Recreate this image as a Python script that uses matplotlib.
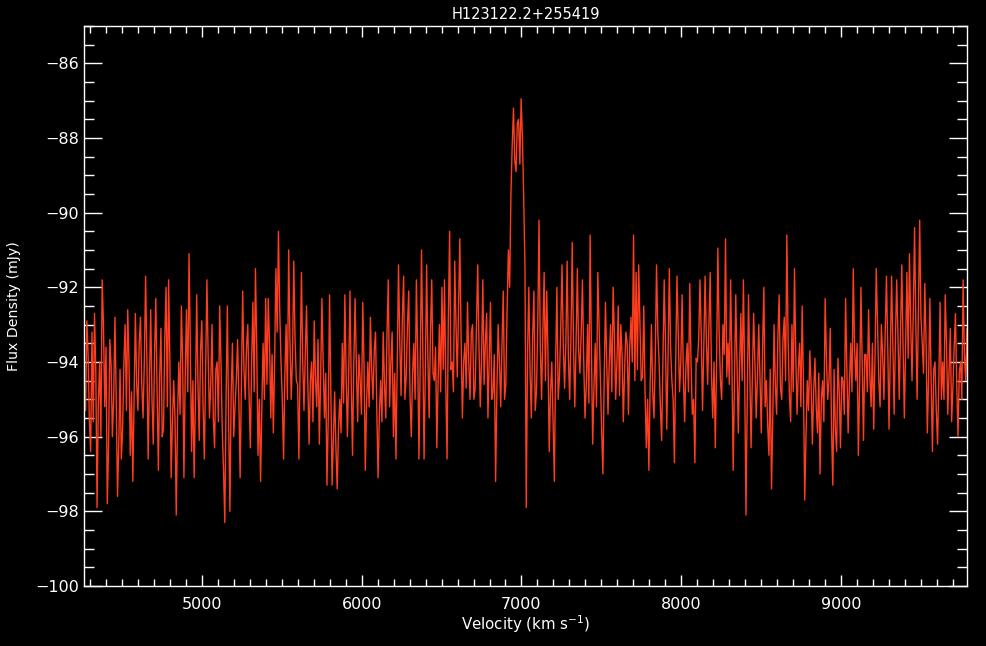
import numpy as np
import matplotlib
matplotlib.use("Agg")
import matplotlib.pyplot as plt
from matplotlib.ticker import MultipleLocator


TITLE = "H123122.2+255419"
X_LABEL = "Velocity (km s$^{-1}$)"
Y_LABEL = "Flux Density (mJy)"

# channel grid of the spectrum (km/s): 8 km/s per channel
V_START = 4262.0
V_STEP = 8.0

# flux density (mJy) on the even channels, 12 per row
flux_even = [
    -94.6, -92.9, -95.6, -93.2, -92.7, -97.9, -94.0, -91.8, -95.2, -97.8, -93.4, -96.0,
    -92.8, -97.6, -94.2, -95.8, -93.0, -92.6, -96.5, -97.2, -92.7, -95.3, -92.8, -95.5,
    -91.7, -96.6, -92.6, -96.2, -92.3, -96.9, -93.1, -95.8, -92.0, -91.8, -97.1, -94.5,
    -98.1, -94.0, -92.5, -97.1, -92.6, -91.1, -96.4, -97.1, -92.2, -96.1, -92.9, -96.6,
    -91.8, -95.5, -93.0, -96.3, -94.0, -92.5, -95.8, -98.3, -92.5, -98.0, -93.5, -95.2,
    -93.4, -97.1, -92.1, -95.0, -93.0, -96.3, -92.4, -91.5, -96.5, -97.2, -93.5, -92.3,
    -92.3, -95.5, -95.9, -91.5, -90.5, -94.0, -96.6, -93.0, -91.0, -95.0, -91.3, -94.5,
    -96.6, -91.6, -95.3, -92.5, -96.2, -94.0, -92.9, -95.2, -96.2, -92.3, -95.5, -97.3,
    -92.2, -97.3, -94.8, -97.4, -95.0, -93.5, -92.2, -96.0, -92.1, -96.5, -92.3, -95.6,
    -94.5, -92.4, -96.9, -94.0, -92.8, -95.0, -93.2, -97.1, -94.5, -93.2, -95.5, -91.8,
    -94.0, -96.0, -96.6, -91.4, -94.9, -91.7, -94.4, -92.1, -96.0, -93.5, -91.8, -96.6,
    -91.0, -96.6, -91.4, -95.5, -91.8, -94.5, -96.3, -93.0, -92.0, -91.8, -96.6, -90.5,
    -94.0, -91.3, -94.4, -90.7, -95.5, -93.5, -92.4, -95.0, -93.0, -94.7, -91.4, -95.2,
    -91.8, -93.5, -95.5, -92.4, -94.8, -97.2, -93.0, -95.2, -92.1, -94.6, -91.0, -89.5,
    -87.2, -88.9, -87.5, -86.95, -89.6, -97.9, -92.0, -95.5, -92.1, -94.8, -90.2, -95.0,
    -91.6, -92.1, -96.4, -94.0, -97.2, -92.0, -94.4, -91.4, -94.7, -91.3, -95.0, -90.8,
    -95.2, -91.5, -94.3, -91.8, -95.5, -93.0, -90.6, -96.2, -93.5, -91.6, -94.5, -97.0,
    -92.4, -95.4, -93.0, -92.0, -95.0, -92.5, -93.0, -95.6, -93.2, -95.4, -92.8, -90.6,
    -91.6, -91.4, -94.5, -92.5, -96.3, -96.9, -93.0, -95.5, -91.4, -94.0, -96.1, -91.8,
    -95.8, -91.5, -94.5, -96.7, -91.7, -94.8, -92.2, -95.6, -93.5, -91.9, -95.4, -96.7,
    -94.0, -91.8, -95.3, -91.7, -94.6, -91.6, -95.5, -96.3, -90.95, -94.5, -93.0, -90.7,
    -93.5, -91.8, -96.9, -92.2, -95.9, -92.7, -91.8, -98.1, -92.2, -96.3, -92.7, -95.5,
    -93.0, -95.9, -92.0, -94.5, -96.5, -97.4, -93.0, -95.4, -92.2, -95.0, -92.8, -90.6,
    -94.9, -93.0, -91.5, -95.4, -93.5, -92.5, -97.7, -94.5, -93.7, -96.2, -93.9, -95.9,
    -97.0, -94.5, -92.3, -95.0, -93.1, -97.3, -95.8, -93.9, -96.3, -94.5, -92.3, -95.9,
    -93.5, -91.5, -94.5, -96.5, -92.0, -96.1, -93.8, -92.6, -95.2, -95.8, -91.5, -94.5,
    -93.0, -95.0, -91.7, -95.8, -91.7, -95.4, -91.8, -95.0, -91.4, -95.5, -91.6, -91.1,
    -94.5, -90.4, -95.0, -90.2, -93.5, -91.9, -95.9, -92.3, -96.4, -94.0, -96.2, -92.4,
    -94.0, -92.2, -95.4, -93.1, -94.7, -92.7, -96.0, -94.0, -91.8, -94.5, -95.4, -94.0,
]

# flux density (mJy) on the odd channels, in between the ones above
flux_odd = [
    -95.3, -93.8, -96.4, -95.6, -94.2, -95.1, -96.0, -93.0, -93.6, -96.3, -94.1, -95.0,
    -95.0, -96.2, -96.6, -94.0, -95.3, -94.0, -94.8, -95.0, -94.6, -93.5, -94.6, -94.0,
    -93.9, -94.5, -95.0, -93.8, -94.8, -94.4, -96.0, -93.4, -95.2, -94.0, -95.6, -95.5,
    -95.5, -95.4, -94.0, -94.4, -94.8, -93.6, -94.5, -95.0, -94.6, -93.7, -95.2, -94.2,
    -93.9, -94.6, -95.5, -94.2, -95.6, -94.0, -96.9, -95.0, -95.6, -94.8, -96.0, -94.5,
    -95.0, -94.6, -94.2, -93.6, -94.9, -94.0, -94.8, -93.6, -95.0, -95.2, -95.0, -94.6,
    -93.5, -93.8, -94.0, -93.2, -92.6, -95.0, -94.4, -95.0, -93.4, -93.9, -93.4, -94.6,
    -94.0, -94.0, -93.8, -94.6, -94.5, -95.6, -94.5, -93.4, -94.5, -94.0, -94.3, -95.5,
    -94.8, -96.0, -96.3, -95.8, -95.9, -95.1, -94.4, -94.3, -94.6, -94.0, -94.1, -93.8,
    -95.4, -94.1, -95.1, -95.2, -94.2, -93.7, -95.3, -95.4, -95.6, -94.6, -93.2, -95.2,
    -93.2, -94.3, -94.0, -93.5, -92.8, -95.0, -93.0, -94.9, -94.3, -95.0, -93.8, -94.0,
    -93.6, -94.2, -93.9, -93.2, -94.3, -93.6, -94.5, -94.8, -94.2, -94.6, -92.8, -94.2,
    -94.8, -93.0, -92.6, -93.4, -94.0, -94.7, -94.0, -93.2, -95.0, -93.0, -93.6, -93.9,
    -94.6, -92.7, -94.0, -95.0, -93.8, -94.8, -94.0, -93.5, -95.0, -92.6, -92.0, -88.2,
    -88.6, -87.6, -88.7, -88.0, -91.5, -93.8, -94.3, -93.3, -95.3, -93.0, -93.6, -93.2,
    -94.5, -93.8, -94.8, -95.6, -94.0, -95.0, -93.1, -93.6, -93.5, -93.9, -93.3, -93.6,
    -93.5, -93.7, -93.2, -94.0, -94.6, -95.1, -93.6, -94.7, -95.2, -93.0, -95.8, -94.5,
    -94.0, -94.0, -94.8, -93.3, -94.0, -94.9, -93.8, -94.2, -93.5, -93.6, -94.0, -94.5,
    -94.2, -93.0, -94.4, -94.8, -95.0, -94.6, -94.8, -93.9, -93.2, -95.2, -94.0, -93.5,
    -93.9, -93.6, -95.0, -94.0, -93.3, -94.0, -94.4, -94.1, -94.8, -94.0, -95.0, -93.9,
    -93.4, -93.3, -93.6, -93.4, -93.0, -94.3, -94.0, -94.0, -93.2, -95.0, -93.8, -94.4,
    -94.6, -94.0, -94.5, -94.0, -94.2, -94.5, -94.4, -95.0, -94.2, -94.4, -94.0, -94.4,
    -94.5, -93.6, -95.2, -95.7, -94.2, -95.5, -94.6, -93.3, -94.7, -93.4, -94.5, -93.4,
    -95.6, -94.8, -93.8, -94.2, -95.2, -94.6, -96.0, -95.3, -94.6, -94.8, -95.2, -94.3,
    -95.0, -95.6, -93.9, -94.5, -95.8, -94.2, -96.4, -94.8, -94.4, -95.4, -94.2, -94.6,
    -94.8, -93.6, -93.5, -94.6, -94.0, -93.8, -94.8, -94.4, -93.5, -93.9, -93.0, -95.2,
    -93.8, -93.2, -93.6, -93.7, -93.5, -93.4, -93.3, -93.2, -93.6, -93.5, -93.9, -93.0,
    -92.6, -93.0, -92.6, -92.8, -94.3, -93.5, -94.4, -94.6, -94.2, -95.3, -94.5, -95.0,
    -95.0, -93.5, -94.2, -95.6, -93.6, -94.6, -94.3, -95.0, -93.8, -93.1, -94.2, -93.8,
]

X_LIMITS = (4262, 9792)
Y_LIMITS = (-100, -85)
Y_TICKS = [-100, -98, -96, -94, -92, -90, -88, -86]
X_TICKS = [5000, 6000, 7000, 8000, 9000]

LINE_COLOR = "#ff3d1f"
FG = "white"


def main() -> None:
    flux = np.empty(len(flux_even) + len(flux_odd))
    flux[0::2] = flux_even
    flux[1::2] = flux_odd
    velocity = V_START + V_STEP * np.arange(len(flux))

    fig = plt.figure(figsize=(9.87, 6.46), dpi=100, facecolor="black")
    ax = fig.add_axes([0.0854, 0.0929, 0.8946, 0.8669], facecolor="black")

    ax.plot(velocity, flux, color=LINE_COLOR, linewidth=1.0)

    ax.set_xlim(*X_LIMITS)
    ax.set_ylim(*Y_LIMITS)
    ax.set_xticks(X_TICKS)
    ax.set_yticks(Y_TICKS)
    ax.xaxis.set_minor_locator(MultipleLocator(100))
    ax.yaxis.set_minor_locator(MultipleLocator(0.5))

    ax.tick_params(axis="both", which="both", direction="in", colors=FG,
                   top=True, right=True, labelsize=11.5, width=1.0)
    ax.tick_params(axis="x", which="major", length=8, pad=8)
    ax.tick_params(axis="x", which="minor", length=4.8)
    ax.tick_params(axis="y", which="major", length=13, pad=4)
    ax.tick_params(axis="y", which="minor", length=7)

    for spine in ax.spines.values():
        spine.set_color(FG)
        spine.set_linewidth(1.0)

    ax.set_title(TITLE, color=FG, fontsize=10.5, pad=5)
    ax.set_xlabel(X_LABEL, color=FG, fontsize=10.8, labelpad=1)
    ax.set_ylabel(Y_LABEL, color=FG, fontsize=10.2, labelpad=10)

    fig.savefig("out.png", dpi=100, facecolor="black")
    plt.close(fig)


if __name__ == "__main__":
    main()
